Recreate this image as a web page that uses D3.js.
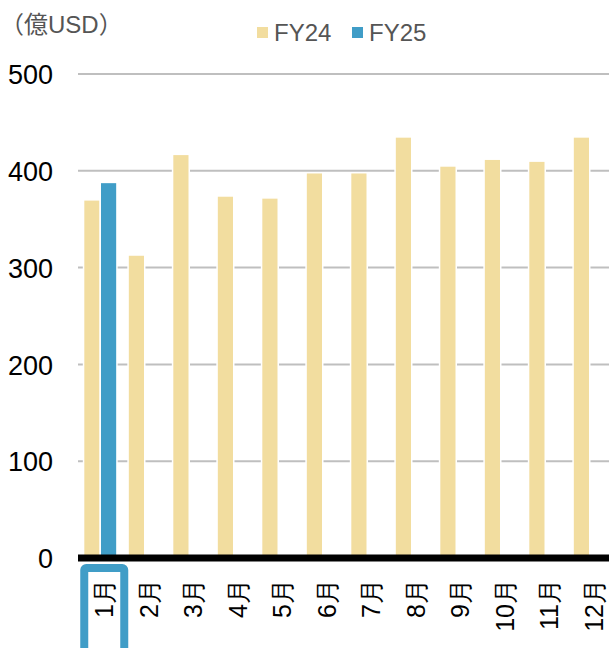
<!DOCTYPE html>
<html lang="ja">
<head>
    <meta charset="UTF-8">
    <title>月別 FY24 / FY25</title>
    <script src="https://d3js.org/d3.v7.min.js"></script>
    <style>
        body { margin: 0; background: #fff; }
        svg { display: block; font-family: "Liberation Sans", Arial, "Noto Sans CJK JP", sans-serif; }
    </style>
</head>
<body>
    <svg width="609" height="648"></svg>
    <script>
        // データ
        const months = ["1月", "2月", "3月", "4月", "5月", "6月", "7月", "8月", "9月", "10月", "11月", "12月"];
        const series = ["FY24", "FY25"];
        const fy24 = [370, 313, 417, 374, 372, 398, 398, 435, 405, 412, 410, 435];
        const fy25 = [388, null, null, null, null, null, null, null, null, null, null, null];
        const yTicks = [0, 100, 200, 300, 400, 500];
        const unitLabel = "（億USD）";
        const highlight = "1月";

        const colors = { FY24: "#f2dd9f", FY25: "#409dc7" };

        const width = 609, height = 648;
        const margin = { top: 74, right: -3, bottom: 90, left: 78 };

        const svg = d3.select("svg");

        const x0 = d3.scaleBand()
            .domain(months)
            .range([margin.left, width - margin.right])
            .paddingInner(0.25)
            .paddingOuter(0.125);

        const x1 = d3.scaleBand()
            .domain(series)
            .range([0, x0.bandwidth()]);

        const y = d3.scaleLinear()
            .domain([0, 500])
            .range([558, 74]);

        // グリッド線
        svg.append("g")
            .selectAll("line")
            .data(yTicks.filter(d => d > 0))
            .join("line")
            .attr("x1", margin.left)
            .attr("x2", width)
            .attr("y1", d => y(d))
            .attr("y2", d => y(d))
            .attr("stroke", "#bfbfbf")
            .attr("stroke-width", 2);

        // 棒
        const rows = months.map((m, i) => ({ month: m, FY24: fy24[i], FY25: fy25[i] }));
        svg.append("g")
            .selectAll("g")
            .data(rows)
            .join("g")
            .attr("transform", d => `translate(${x0(d.month)},0)`)
            .selectAll("rect")
            .data(d => series.filter(s => d[s] != null).map(s => ({ key: s, value: d[s] })))
            .join("rect")
            .attr("x", d => x1(d.key))
            .attr("y", d => y(d.value))
            .attr("width", x1.bandwidth())
            .attr("height", d => y(0) - y(d.value))
            .attr("fill", d => colors[d.key])
            .attr("stroke", "#fff")
            .attr("stroke-width", 1.5);

        // 横軸（黒い太線）
        svg.append("line")
            .attr("x1", margin.left)
            .attr("x2", width)
            .attr("y1", y(0))
            .attr("y2", y(0))
            .attr("stroke", "#000")
            .attr("stroke-width", 7);

        // 縦軸ラベル
        const yAxis = svg.append("g")
            .attr("transform", `translate(${margin.left},0)`)
            .call(d3.axisLeft(y).tickValues(yTicks).tickSize(0).tickPadding(25));
        yAxis.select(".domain").remove();
        yAxis.selectAll("text")
            .attr("fill", "#000")
            .style("font-size", "27px")
            .attr("dy", "0.36em");

        // 横軸ラベル（縦書き）
        const xAxis = svg.append("g")
            .attr("transform", `translate(0,${y(0)})`)
            .call(d3.axisBottom(x0).tickSize(0).tickPadding(0));
        xAxis.select(".domain").remove();
        xAxis.selectAll("text")
            .attr("fill", "#000")
            .style("font-size", "25px")
            .attr("text-anchor", "end")
            .attr("transform", "translate(4,21) rotate(-90)")
            .attr("x", 0)
            .attr("y", 0)
            .attr("dy", "0.36em");

        // 強調枠
        svg.append("rect")
            .attr("x", x0(highlight) + x0.bandwidth() / 2 - 16)
            .attr("y", 568)
            .attr("width", 40)
            .attr("height", 100)
            .attr("rx", 2)
            .attr("fill", "none")
            .attr("stroke", colors.FY25)
            .attr("stroke-width", 8);

        // 単位
        svg.append("text")
            .attr("x", 0)
            .attr("y", 33)
            .attr("fill", "#555")
            .style("font-size", "24px")
            .text(unitLabel);

        // 凡例
        const legend = svg.append("g")
            .selectAll("g")
            .data(series)
            .join("g")
            .attr("transform", (d, i) => `translate(${257 + i * 95},27)`);
        legend.append("rect")
            .attr("width", 11)
            .attr("height", 11)
            .attr("fill", d => colors[d]);
        legend.append("text")
            .attr("x", 17)
            .attr("y", 5.5)
            .attr("dy", "0.36em")
            .attr("fill", "#555")
            .style("font-size", "24px")
            .text(d => d);
    </script>
</body>
</html>
